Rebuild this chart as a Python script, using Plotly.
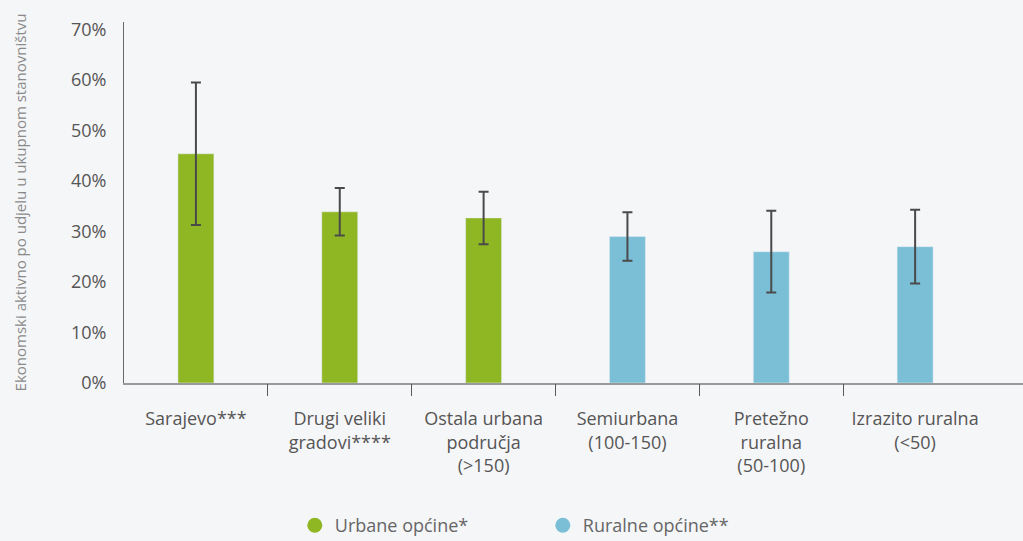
import plotly.graph_objects as go

categories = ["Sarajevo***", "Drugi veliki<br>gradovi****", "Ostala urbana<br>područja<br>(>150)",
              "Semiurbana<br>(100-150)", "Pretežno<br>ruralna<br>(50-100)", "Izrazito ruralna<br>(<50)"]
values = [45.4, 33.9, 32.7, 29.0, 26.0, 27.0]
errors = [14.1, 4.7, 5.2, 4.8, 8.1, 7.3]
groups = ["urban", "urban", "urban", "rural", "rural", "rural"]
ytick_vals = [0, 10, 20, 30, 40, 50, 60, 70]
ytick_text = ["0%", "10%", "20%", "30%", "40%", "50%", "60%", "70%"]

GREEN = "#8fb724"
BLUE = "#7bbfd6"
TEXT = "#555555"
FONT = "Open Sans, Noto Sans, sans-serif"

fig = go.Figure()

pos = list(range(len(categories)))
fig.add_trace(go.Bar(
    x=pos, y=values,
    marker_color=[GREEN if g == "urban" else BLUE for g in groups],
    width=0.25,
    error_y=dict(type="data", array=errors, color="#4a4a4a", thickness=2, width=5),
    showlegend=False,
    hoverinfo="skip",
))

# legend entries with round markers
fig.add_trace(go.Scatter(x=[None], y=[None], mode="markers", name="Urbane općine*",
                         marker=dict(symbol="circle", size=15, color=GREEN)))
fig.add_trace(go.Scatter(x=[None], y=[None], mode="markers", name="Ruralne općine**",
                         marker=dict(symbol="circle", size=15, color=BLUE)))

# invisible axis only used to draw the separator ticks between categories
fig.add_trace(go.Scatter(x=[None], y=[None], xaxis="x2", showlegend=False))

xrange = [-0.5, 5.75]
fig.update_layout(
    width=1023, height=541,
    paper_bgcolor="#f5f6f8", plot_bgcolor="#f5f6f8",
    margin=dict(l=124, r=0, t=22, b=158, autoexpand=False),
    font=dict(family=FONT, color=TEXT, size=18),
    xaxis=dict(
        range=xrange, tickvals=pos, ticktext=categories, ticks="",
        showline=True, linecolor="#9a9a9a", linewidth=1.5, ticklabelstandoff=19,
        showgrid=False, zeroline=False, tickfont=dict(size=18, color=TEXT),
    ),
    xaxis2=dict(
        overlaying="x", anchor="y", side="bottom", range=xrange,
        tickvals=[0.5, 1.5, 2.5, 3.5, 4.5], ticks="outside", ticklen=12,
        tickcolor="#595959", tickwidth=1, showticklabels=False,
        showgrid=False, zeroline=False, showline=False,
    ),
    yaxis=dict(
        range=[0, 71.5], tickvals=ytick_vals, ticktext=ytick_text,
        showline=True, linecolor="#6a6a6a", linewidth=1,
        showgrid=False, zeroline=False, ticks="", ticklabelstandoff=13,
        tickfont=dict(size=18, color=TEXT),
        title=dict(text="Ekonomski aktivno po udjelu u ukupnom stanovništvu",
                   font=dict(size=15, color="#8a8a8a"), standoff=40),
    ),
    legend=dict(
        orientation="h", x=0.19, xanchor="left", y=-0.395, yanchor="middle",
        entrywidth=203, entrywidthmode="pixels",
        font=dict(size=18, color="#666666"), bgcolor="rgba(0,0,0,0)",
    ),
)

fig.write_html("out.html", config={"displayModeBar": False},
               post_script="document.body.style.margin='0';")
